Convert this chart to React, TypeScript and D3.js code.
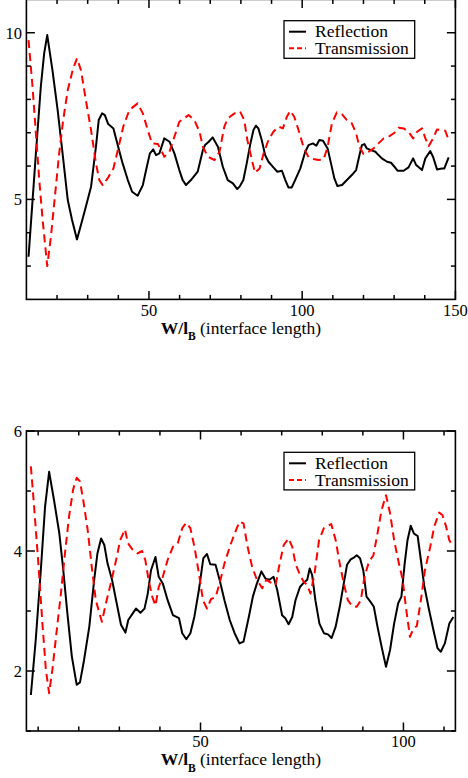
import React from 'react';
import * as d3 from 'd3';

// ---- Top panel data ----
const topReflX = [10.7,13.1,14.7,15.8,16.8,18.5,20.2,21.8,23.5,24.9,26.5,27.8,29.4,31.1,32.7,33.6,34.7,35.6,36.7,38.4,39.8,41.4,43.1,44.5,46.3,48,49.3,50.3,51.4,52.3,53.4,55,56.7,58.3,59.9,61,62.1,63.7,65.9,67.6,68.3,69.5,70.8,72.5,74.1,75.7,77.4,78.8,79.7,80.8,81.9,83,84.1,84.9,85.7,86.8,87.9,89,90.6,91.9,93.4,94.5,95.5,96.6,97.7,99.4,101,102.1,103.5,104.6,105.6,106.8,108.3,109.4,110.5,111.5,113,114.6,116.2,117.6,118.7,119.5,120.3,121.1,122.4,123.9,124.9,126,127.7,129,130.1,131.1,133.1,134.7,136.2,137.2,139.1,140.2,141.8,142.7,144,145.6,146.4,147.8];
const topReflY = [3.28,6.38,8.38,9.38,9.93,8.88,7.68,6.38,4.98,4.38,3.8,4.23,4.78,5.38,6.58,7.38,7.58,7.53,7.26,7.13,6.63,6.08,5.58,5.23,5.11,5.43,5.98,6.38,6.5,6.33,6.38,6.83,6.73,6.38,5.88,5.58,5.43,5.58,5.83,6.48,6.63,6.73,6.86,6.58,5.98,5.58,5.48,5.31,5.4,5.58,6.08,6.63,7.08,7.21,7.13,6.78,6.33,6.13,5.96,5.83,5.86,5.58,5.36,5.36,5.58,5.93,6.43,6.63,6.68,6.61,6.78,6.76,6.53,6.08,5.63,5.4,5.43,5.58,5.73,5.88,6.33,6.63,6.66,6.53,6.48,6.43,6.33,6.23,6.13,6.1,5.98,5.86,5.86,5.96,6.23,6.03,5.88,6.23,6.45,6.28,5.9,5.93,5.93,6.26];
const topTransX = [10.7,12,13.1,14.2,15.3,16.8,18,19.4,20.7,22,23.5,25.1,26.5,27.8,29.4,31.1,32.7,33.8,34.9,36.5,38.4,40.1,41.6,43.6,46.3,48,49.6,51,52.9,54,55,56.7,58.3,59.9,62.9,64.8,66.5,67.6,69.2,71.4,73,74.6,75.7,77.9,79.7,81.1,82.1,83.6,84.6,86.1,87.4,89,90.6,92.3,93.7,95,96.1,97.4,98.8,100.4,102.1,103.7,105.3,107,108.3,109.7,111.3,113,114.6,116.2,117.6,118.7,120,121.7,123.3,124.9,126.6,128.5,130.1,131.5,133.1,134.7,136.2,137.5,139.1,140.2,141.3,142.7,144,145.6,146.7,147.8];
const topTransY = [9.78,8.38,6.98,5.58,4.38,3.0,3.88,5.18,6.38,7.38,8.28,8.88,9.23,8.88,7.98,7.08,6.08,5.58,5.43,5.63,5.93,6.58,7.18,7.68,7.88,7.58,7.08,6.68,6.66,6.48,6.28,6.43,6.88,7.33,7.53,7.38,7.03,6.58,6.28,6.18,6.43,7.18,7.43,7.58,7.64,7.38,6.78,6.18,5.8,5.93,6.38,6.78,7.03,7.18,7.13,7.48,7.66,7.48,7.08,6.58,6.26,6.21,6.18,6.2,6.58,7.28,7.61,7.55,7.38,7.28,6.98,6.58,6.36,6.43,6.53,6.68,6.83,6.9,7.0,7.15,7.13,7.03,6.83,7.03,7.13,6.83,6.6,6.83,7.1,7.08,7.06,6.78];

// ---- Bottom panel data ----
const botReflX = [8.2,9.4,10.6,11.7,12.7,13.9,15.2,16.1,17.2,18.3,19.5,20.3,21.3,22.6,23.8,24.6,25.5,26.3,27.1,28.2,29.2,30.4,31.5,32.2,33.3,34.1,35.2,36.2,37,37.8,38.9,39.7,40.7,41.9,43.2,44.7,45.5,46.5,47.5,48.5,49.6,50.7,51.6,52.4,53.7,54.7,55.9,57.2,58.4,59.6,60.6,61.9,62.9,63.9,65,66,67,68,68.9,70.1,70.9,71.7,72.6,73.4,74.5,75.4,76.3,76.9,77.5,78.3,79.3,80.4,81.4,82.3,83.3,84.3,85.3,86.1,87,87.8,88.5,89.3,90.1,90.9,91.8,92.7,93.6,94.6,95.7,96.7,97.7,98.7,99.5,100.3,101,101.8,102.6,103.5,104.3,105.1,106.3,107.4,108.4,109.2,110.2,111.3,112.3];
const botReflY = [1.6,2.52,3.63,4.74,5.32,4.85,4.3,3.74,2.96,2.24,1.77,1.81,2.18,2.74,3.52,3.96,4.21,4.1,3.79,3.52,3.18,2.77,2.64,2.85,2.96,3.04,2.97,3.04,3.29,3.68,3.9,3.57,3.46,3.18,2.93,2.88,2.63,2.53,2.63,2.91,3.35,3.88,3.95,3.78,3.77,3.52,3.18,2.85,2.63,2.46,2.49,2.9,3.24,3.46,3.66,3.54,3.52,3.57,3.35,2.93,2.88,2.78,2.9,3.18,3.4,3.47,3.52,3.71,3.6,3.18,2.79,2.63,2.61,2.55,2.74,3.07,3.46,3.77,3.86,3.89,3.93,3.88,3.68,3.24,3.16,3.07,2.74,2.41,2.07,2.35,2.79,3.13,3.24,3.79,4.18,4.42,4.29,4.25,3.85,3.43,3.02,2.68,2.38,2.32,2.46,2.79,2.9];
const botTransX = [8.2,9,10.1,11.1,11.9,12.7,13.5,14.5,15.6,16.6,17.6,18.6,19.5,20.3,21.1,22.2,23.2,24.2,25.7,26.7,27.9,29.2,30.2,31.4,32.1,33.3,34.5,35.6,36.4,37.2,38.1,38.9,39.7,40.7,41.9,43.2,44.4,45.5,46.5,47.5,48.5,49.6,50.6,51.6,52.6,53.7,54.7,55.9,57.2,58.4,59.6,60.6,61.6,62.7,63.9,65.2,66.2,67.4,68.5,69.5,70.5,71.7,72.6,73.4,74.5,75.4,76.3,77.1,78.1,79.2,80.4,82.2,83.3,84.3,85.3,86.3,87.4,88.5,89.5,90.4,91.5,92.6,93.6,94.6,95.7,96.7,97.7,98.7,99.8,100.6,101.6,102.5,103.3,104.3,105.3,106.6,107.6,108.8,109.6,110.5,111.3,112.2];
const botTransY = [5.41,4.74,3.74,2.74,2.02,1.63,2.02,2.63,3.29,3.96,4.57,5.02,5.22,5.16,4.85,4.35,3.74,3.18,2.82,3.13,3.46,3.85,4.18,4.36,4.13,4.02,3.96,4.0,3.85,3.52,3.24,3.09,3.4,3.57,3.85,4.07,4.13,4.38,4.47,4.38,4.07,3.63,3.18,3.04,3.2,3.23,3.46,3.79,4.07,4.29,4.49,4.46,4.07,3.74,3.52,3.38,3.52,3.47,3.43,3.79,4.1,4.21,4.07,3.79,3.6,3.49,3.43,3.29,3.63,4.18,4.38,4.45,4.18,3.79,3.46,3.18,3.08,3.07,3.18,3.57,3.82,3.93,4.29,4.68,4.93,4.63,4.18,3.85,3.52,3.07,2.57,2.71,2.75,3.18,3.68,4.07,4.41,4.64,4.6,4.41,4.18,4.08];

// ---- Ticks ----
const topXMajor = [50, 100, 150];
const topXMinor = [20, 30, 40, 60, 70, 80, 90, 110, 120, 130, 140];
const topYMajor = [5, 10];
const topYMinor = [3, 4, 6, 7, 8, 9];
const botXMajor = [50, 100];
const botXMinor = [10, 20, 30, 40, 60, 70, 80, 90, 110];
const botYMajor = [2, 4, 6];
const botYMinor = [1, 3, 5];

const seriesNames = ['Reflection', 'Transmission'];
const FONT = '"Liberation Serif", "Times New Roman", serif';

type PanelProps = {
  top: number;
  xDomain: [number, number];
  yDomain: [number, number];
  xMajor: number[]; xMinor: number[];
  yMajor: number[]; yMinor: number[];
  reflX: number[]; reflY: number[];
  transX: number[]; transY: number[];
};

function Panel(p: PanelProps) {
  const left = 26.4;
  const width = 429;
  const height = 300;
  const bottom = p.top + height;
  const right = left + width;
  const x = d3.scaleLinear().domain(p.xDomain).range([left, right]);
  const y = d3.scaleLinear().domain(p.yDomain).range([bottom, p.top]);
  const line = d3.line<[number, number]>().x(d => x(d[0])).y(d => y(d[1]));
  const refl = p.reflX.map((v, i) => [v, p.reflY[i]] as [number, number]);
  const trans = p.transX.map((v, i) => [v, p.transY[i]] as [number, number]);
  const majL = 8.5, minL = 4.5;
  const lg = { x: 284, y: p.top + 21.3, w: 130.7, h: 37.6 };
  const cx = (left + right) / 2;
  return (
    <g>
      <path d={line(refl) || ''} fill="none" stroke="#000" strokeWidth={2} strokeLinejoin="round" />
      <path d={line(trans) || ''} fill="none" stroke="#ff0000" strokeWidth={2} strokeDasharray="8,5" strokeLinejoin="round" />
      {/* frame */}
      <rect x={left} y={p.top} width={width} height={height} fill="none" stroke="#000" strokeWidth={1.6} />
      {/* x ticks */}
      {p.xMajor.map(v => (
        <g key={'xM' + v}>
          <line x1={x(v)} x2={x(v)} y1={bottom} y2={bottom - majL} stroke="#000" strokeWidth={1.5} />
          <line x1={x(v)} x2={x(v)} y1={p.top} y2={p.top + majL} stroke="#000" strokeWidth={1.5} />
          <text x={x(v)} y={bottom + 16.4} textAnchor="middle" fontFamily={FONT} fontSize={16.5}>{v}</text>
        </g>
      ))}
      {p.xMinor.map(v => (
        <g key={'xm' + v}>
          <line x1={x(v)} x2={x(v)} y1={bottom} y2={bottom - minL} stroke="#000" strokeWidth={1.5} />
          <line x1={x(v)} x2={x(v)} y1={p.top} y2={p.top + minL} stroke="#000" strokeWidth={1.5} />
        </g>
      ))}
      {/* y ticks */}
      {p.yMajor.map(v => (
        <g key={'yM' + v}>
          <line x1={left} x2={left + majL} y1={y(v)} y2={y(v)} stroke="#000" strokeWidth={1.5} />
          <line x1={right} x2={right - majL} y1={y(v)} y2={y(v)} stroke="#000" strokeWidth={1.5} />
          <text x={left - 4.5} y={y(v) + 5.8} textAnchor="end" fontFamily={FONT} fontSize={16.5}>{v}</text>
        </g>
      ))}
      {p.yMinor.map(v => (
        <g key={'ym' + v}>
          <line x1={left} x2={left + minL} y1={y(v)} y2={y(v)} stroke="#000" strokeWidth={1.5} />
          <line x1={right} x2={right - minL} y1={y(v)} y2={y(v)} stroke="#000" strokeWidth={1.5} />
        </g>
      ))}
      {/* axis label */}
      <text x={cx} y={bottom + 34.2} textAnchor="middle" fontFamily={FONT} fontSize={17.5}>
        <tspan fontWeight="bold">W/l</tspan>
        <tspan fontWeight="bold" fontSize={11.5} dy={6.5}>B</tspan>
        <tspan dy={-6.5}> (interface length)</tspan>
      </text>
      {/* legend */}
      <rect x={lg.x} y={lg.y} width={lg.w} height={lg.h} fill="#fff" stroke="#000" strokeWidth={1.3} />
      <line x1={289} x2={306} y1={lg.y + 11} y2={lg.y + 11} stroke="#000" strokeWidth={2} />
      <line x1={289} x2={306} y1={lg.y + 27.6} y2={lg.y + 27.6} stroke="#ff0000" strokeWidth={2} strokeDasharray="5,3" />
      <text x={315} y={lg.y + 16.6} fontFamily={FONT} fontSize={17.5}>{seriesNames[0]}</text>
      <text x={315} y={lg.y + 33.2} fontFamily={FONT} fontSize={17.5}>{seriesNames[1]}</text>
    </g>
  );
}

export default function App() {
  return (
    <svg width={468} height={778} style={{ position: 'absolute', left: 0, top: 0, background: '#fff' }}>
      <rect x={0} y={0} width={468} height={778} fill="#fff" />
      <Panel top={-0.6} xDomain={[10, 150]} yDomain={[2, 11]}
        xMajor={topXMajor} xMinor={topXMinor} yMajor={topYMajor} yMinor={topYMinor}
        reflX={topReflX} reflY={topReflY} transX={topTransX} transY={topTransY} />
      <Panel top={431} xDomain={[7.1, 112.8]} yDomain={[1, 6]}
        xMajor={botXMajor} xMinor={botXMinor} yMajor={botYMajor} yMinor={botYMinor}
        reflX={botReflX} reflY={botReflY} transX={botTransX} transY={botTransY} />
    </svg>
  );
}
